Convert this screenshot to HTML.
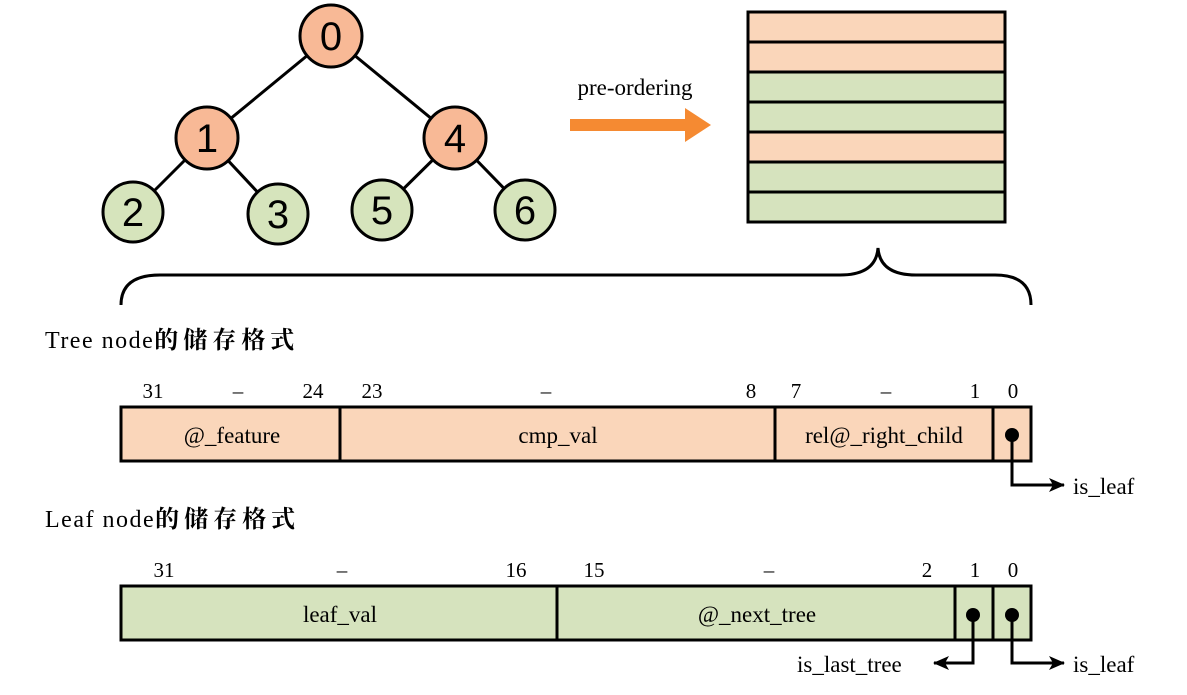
<!DOCTYPE html>
<html><head><meta charset="utf-8"><style>
body{margin:0;background:#fff;}
svg{display:block}
.s{font-family:"Liberation Serif","Noto Serif CJK SC",serif;}
.c{font-family:"Liberation Sans","DejaVu Sans",sans-serif;}
</style></head><body>
<svg width="1187" height="695" viewBox="0 0 1187 695">
<defs><marker id="ah" markerWidth="16" markerHeight="14" refX="15" refY="7" orient="auto" markerUnits="userSpaceOnUse"><path d="M0,0 L16,7 L0,14 L4,7 z" fill="#000"/></marker></defs>
<g stroke="#000" stroke-width="3">
<line x1="331" y1="36" x2="207" y2="138"/><line x1="331" y1="36" x2="455" y2="138"/>
<line x1="207" y1="138" x2="133" y2="212"/><line x1="207" y1="138" x2="278" y2="214"/>
<line x1="455" y1="138" x2="382" y2="210"/><line x1="455" y1="138" x2="525" y2="210"/>
</g>
<g stroke="#000" stroke-width="3">
<circle cx="331" cy="36" r="31" fill="#F8B996"/>
<circle cx="207" cy="138" r="31" fill="#F8B996"/>
<circle cx="455" cy="138" r="31" fill="#F8B996"/>
<circle cx="133" cy="212" r="30" fill="#D6E4BC"/>
<circle cx="278" cy="214" r="30" fill="#D6E4BC"/>
<circle cx="382" cy="210" r="30" fill="#D6E4BC"/>
<circle cx="525" cy="210" r="30" fill="#D6E4BC"/>
</g>
<g class="c" font-size="40" text-anchor="middle">
<text x="331" y="50">0</text><text x="207" y="152">1</text><text x="455" y="152">4</text>
<text x="133" y="226">2</text><text x="278" y="228">3</text><text x="382" y="224">5</text><text x="525" y="224">6</text>
</g>
<text class="s" x="635" y="95" font-size="23" text-anchor="middle">pre-ordering</text>
<rect x="570" y="119" width="115" height="12" fill="#F58A32"/>
<polygon points="685,108 711,125 685,142" fill="#F58A32"/>
<g stroke="#000" stroke-width="3">
<rect x="748" y="12" width="257" height="30" fill="#FAD6BA"/>
<rect x="748" y="42" width="257" height="30" fill="#FAD6BA"/>
<rect x="748" y="72" width="257" height="30" fill="#D6E3BE"/>
<rect x="748" y="102" width="257" height="30" fill="#D6E3BE"/>
<rect x="748" y="132" width="257" height="30" fill="#FAD6BA"/>
<rect x="748" y="162" width="257" height="30" fill="#D6E3BE"/>
<rect x="748" y="192" width="257" height="30" fill="#D6E3BE"/>
</g>
<path d="M121,305 Q121,275 160,275 L840,275 Q876,275 878,248 Q880,275 916,275 L995,275 Q1031,275 1031,305" fill="none" stroke="#000" stroke-width="3"/>
<text class="s" x="45" y="348" font-size="24" letter-spacing="1.5">Tree node<tspan font-weight="bold" letter-spacing="5">的储存格式</tspan></text>
<text class="s" x="45" y="527" font-size="24" letter-spacing="1.5">Leaf node<tspan font-weight="bold" letter-spacing="5">的储存格式</tspan></text>
<g class="s" font-size="21" text-anchor="middle">
<text x="153" y="398">31</text><text x="238" y="398">–</text><text x="313" y="398">24</text>
<text x="372" y="398">23</text><text x="546" y="398">–</text><text x="751" y="398">8</text>
<text x="796" y="398">7</text><text x="886" y="398">–</text><text x="975" y="398">1</text><text x="1013" y="398">0</text>
<text x="164" y="577">31</text><text x="342" y="577">–</text><text x="516" y="577">16</text>
<text x="594" y="577">15</text><text x="769" y="577">–</text><text x="927" y="577">2</text><text x="975" y="577">1</text><text x="1013" y="577">0</text>
</g>
<g stroke="#000" stroke-width="3">
<rect x="121" y="407" width="910" height="54" fill="#FAD6BA"/>
<line x1="340" y1="407" x2="340" y2="461"/><line x1="775" y1="407" x2="775" y2="461"/><line x1="993" y1="407" x2="993" y2="461"/>
<rect x="121" y="586" width="910" height="54" fill="#D6E3BE"/>
<line x1="557" y1="586" x2="557" y2="640"/><line x1="955" y1="586" x2="955" y2="640"/><line x1="993" y1="586" x2="993" y2="640"/>
</g>
<g class="s" font-size="23" text-anchor="middle">
<text x="232" y="443">@_feature</text><text x="558" y="443">cmp_val</text><text x="884" y="443">rel@_right_child</text>
<text x="340" y="622">leaf_val</text><text x="757" y="622">@_next_tree</text>
</g>
<g fill="#000"><circle cx="1012" cy="435" r="7"/><circle cx="1012" cy="615" r="7"/><circle cx="973" cy="615" r="7"/></g>
<g fill="none" stroke="#000" stroke-width="3">
<path d="M1012,435 L1012,485 L1064,485" marker-end="url(#ah)"/>
<path d="M1012,615 L1012,663 L1064,663" marker-end="url(#ah)"/>
<path d="M973,615 L973,663 L934,663" marker-end="url(#ah)"/>
</g>
<g class="s" font-size="23">
<text x="1073" y="494">is_leaf</text><text x="1073" y="672">is_leaf</text><text x="797" y="672">is_last_tree</text>
</g>
</svg>
</body></html>
